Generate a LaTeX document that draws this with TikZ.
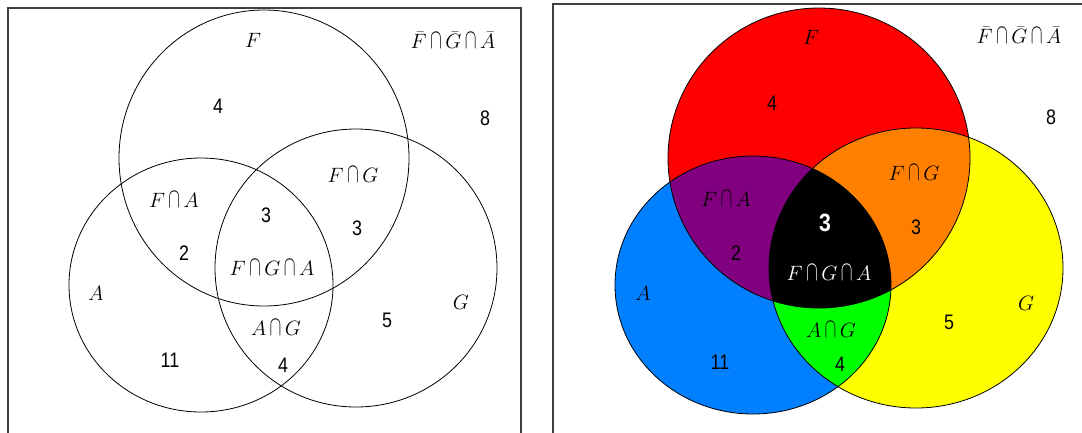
\documentclass[tikz,border=0pt]{standalone}
\usepackage{fontspec}
\usepackage{graphicx}
\newfontfamily\numfont[FakeStretch=0.85]{Liberation Sans}
\newcommand{\tcap}{\mathbin{\mkern-1mu\scalebox{0.85}[1.35]{$\cap$}\mkern-1mu}}
\definecolor{vred}{RGB}{255,0,0}
\definecolor{vyellow}{RGB}{255,255,0}
\definecolor{vblue}{RGB}{0,128,255}
\definecolor{vpurple}{RGB}{128,0,128}
\definecolor{vorange}{RGB}{255,128,0}
\definecolor{vgreen}{RGB}{0,255,0}
\begin{document}
\begin{tikzpicture}[x=1pt,y=-1pt,
  outline/.style={draw=black,line width=0.8pt},
  frame/.style={draw=black!75,line width=1.2pt},
  num/.style={font=\numfont\fontsize{21}{23}\selectfont,inner sep=0pt},
  lab/.style={font=\fontsize{22}{24}\selectfont,inner sep=0pt},
  bignum/.style={font=\numfont\bfseries\fontsize{25}{27}\selectfont,inner sep=0pt,text=white},
]
\useasboundingbox (0,0) rectangle (1082,432);
\fill[white] (0,0) rectangle (1082,432);
% ---------- left panel ----------
\def\LF{(264,158) ellipse [x radius=145pt, y radius=148pt]}
\def\LG{(356,268) ellipse [x radius=141pt, y radius=139pt]}
\def\LA{(201,285) ellipse [x radius=132pt, y radius=127pt]}
\draw[frame] (8,440) -- (8,8) -- (521,8) -- (521,440);
\draw[outline] \LF;
\draw[outline] \LG;
\draw[outline] \LA;
\node[lab] (lF) at (253,40) {$F$};
\node[lab] (lC) at (453,40) {$\bar{F}\tcap\bar{G}\tcap\bar{A}$};
\node[num] (l4a) at (218,106) {4};
\node[num] (l8) at (485,118) {8};
\node[lab] (lFG) at (353,175) {$F\tcap G$};
\node[lab] (lFA) at (174,200) {$F\tcap A$};
\node[num] (l3a) at (266,215) {3};
\node[num] (l3b) at (357,228) {3};
\node[num] (l2) at (184,253) {2};
\node[lab] (lFGA) at (272,268) {$F\tcap G\tcap A$};
\node[lab] (lA) at (96,293) {$A$};
\node[lab] (lG) at (461,302) {$G$};
\node[num] (l5) at (387,320) {5};
\node[lab] (lAG) at (276,328) {$A\tcap G$};
\node[num] (l11) at (170,360) {11};
\node[num] (l4b) at (283,365) {4};
% ---------- right panel ----------
\def\RF{(819,158) ellipse [x radius=151pt, y radius=150pt]}
\def\RG{(916,268) ellipse [x radius=147pt, y radius=140pt]}
\def\RA{(753,285) ellipse [x radius=138pt, y radius=129pt]}
\draw[frame] (553,440) -- (553,4) -- (1090,4);
\fill[vyellow] \RG;
\fill[vblue] \RA;
\fill[vred] \RF;
\begin{scope}\clip \RF; \fill[vpurple] \RA; \end{scope}
\begin{scope}\clip \RF; \fill[vorange] \RG; \end{scope}
\begin{scope}\clip \RA; \fill[vgreen] \RG; \end{scope}
\begin{scope}\clip \RF; \clip \RA; \fill[black] \RG; \end{scope}
\draw[outline] \RF;
\draw[outline] \RG;
\draw[outline] \RA;
\node[lab] (rF) at (811,37) {$F$};
\node[lab] (rC) at (1019,35) {$\bar{F}\tcap\bar{G}\tcap\bar{A}$};
\node[num] (r4a) at (772,103) {4};
\node[num] (r8) at (1051,117) {8};
\node[lab] (rFG) at (914,173) {$F\tcap G$};
\node[lab] (rFA) at (726,199) {$F\tcap A$};
\node[bignum] (r3a) at (825,223) {3};
\node[num] (r3b) at (916,227) {3};
\node[num] (r2) at (736,253) {2};
\node[lab,text=white] (rFGA) at (829,273) {$F\tcap G\tcap A$};
\node[lab] (rA) at (643,293) {$A$};
\node[lab] (rG) at (1026,303) {$G$};
\node[num] (r5) at (949,322) {5};
\node[lab] (rAG) at (831,330) {$A\tcap G$};
\node[num] (r11) at (720,362) {11};
\node[num] (r4b) at (840,364) {4};
\end{tikzpicture}
\end{document}
